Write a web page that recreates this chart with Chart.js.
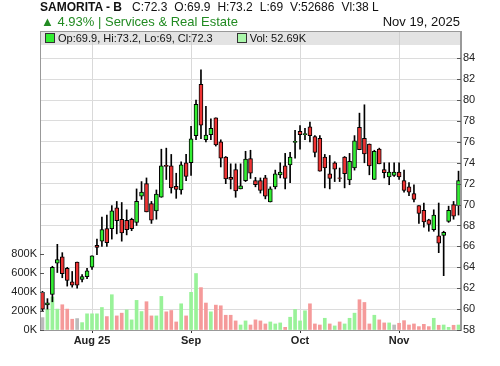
<!DOCTYPE html>
<html lang="en">
<head>
<meta charset="UTF-8">
<title>SAMORITA - B</title>
<script src="https://cdn.jsdelivr.net/npm/chart.js"></script>
<style>
    body { margin: 0; background: #fff; font-family: "Liberation Sans", Arial, sans-serif; }
    #wrap { position: relative; width: 500px; height: 366px; overflow: hidden; }
    canvas { position: absolute; left: 0; top: 0; }
    .line1 { position: absolute; left: 40px; top: 0; font-size: 12px; color: #111; white-space: nowrap; }
    .line1 span { margin-left: 7px; }
    .line1 span.first { margin-left: 10px; }
    .line2 { position: absolute; left: 41px; top: 14px; font-size: 13px; color: #228b22; white-space: nowrap; }
    .date { position: absolute; right: 40px; top: 14px; font-size: 13px; color: #111; white-space: nowrap; }
    .legend { position: absolute; left: 45px; top: 32px; font-size: 11px; color: #111; white-space: nowrap; }
    .sw { display: inline-block; width: 8px; height: 8px; border: 1px solid #333; vertical-align: -1px; margin-right: 3px; }
</style>
</head>
<body>
<div id="wrap">
    <canvas id="chart" width="500" height="366"></canvas>
    <div class="line1"><b>SAMORITA - B</b><span class="first" id="hc"></span><span id="ho"></span><span id="hh"></span><span id="hl"></span><span id="hv"></span><span>Vl:38 L</span></div>
    <div class="line2">▲ <span id="pct"></span> | Services &amp; Real Estate</div>
    <div class="date">Nov 19, 2025</div>
    <div class="legend"><span class="sw" style="background:#33ee33"></span><span id="ohlc"></span><span class="sw" style="background:#aaf7aa; margin-left:24px"></span><span id="vol"></span></div>
</div>

<script>
    // trading days per month
    const julDays = [20, 21, 22, 23, 24, 27, 28, 29, 30, 31];
    const augDays = [3, 4, 6, 7, 10, 11, 12, 13, 14, 17, 18, 19, 20, 21, 24, 25, 26, 27, 28, 31];
    const sepDays = [1, 2, 3, 4, 7, 8, 9, 10, 11, 14, 15, 16, 17, 18, 21, 22, 23, 24, 25, 28, 29, 30];
    const octDays = [5, 6, 7, 8, 9, 12, 13, 14, 15, 16, 19, 20, 21, 22, 23, 26, 27, 28, 29, 30];
    const novDays = [3, 4, 5, 6, 9, 10, 11, 12, 13, 16, 17, 18, 19];
    const monthNames = ['Jul', 'Aug', 'Sep', 'Oct', 'Nov'];
    const monthTickLabels = ['', 'Aug 25', 'Sep', 'Oct', 'Nov'];

    const opens = [
        61.6, 60.4, 61.4, 64.4, 65.0, 63.9, 62.6, 64.5, 62.85, 63.1,
        64.0, 66.1, 66.5, 67.7, 67.7, 69.7, 68.6, 68.5, 68.6, 68.3,
        70.8, 72.0, 70.1, 69.4, 70.7, 73.75, 73.7, 71.75, 71.4, 74.0,
        74.0, 76.6, 81.5, 76.2, 76.7, 78.3, 76.0, 74.55, 72.6, 73.35,
        71.5, 72.3, 74.4, 72.3, 72.3, 72.55, 70.25, 71.7, 72.85, 73.7,
        73.8, 75.95, 77.0, 76.7, 77.45, 76.5, 76.35, 74.55, 72.95, 74.0,
        72.55, 74.55, 72.35, 73.5, 77.4, 76.35, 75.8, 72.4, 75.3, 73.35,
        72.65, 72.8, 73.1, 72.3, 71.7, 71.05, 69.9, 69.45, 68.55, 67.6,
        67.0, 67.05, 68.4, 70.0, 69.9
    ];
    const highs = [
        61.7, 61.0, 64.1, 66.2, 65.4, 64.0, 63.6, 64.5, 63.3, 63.9,
        65.1, 66.7, 68.8, 69.0, 69.9, 70.3, 70.2, 69.5, 68.7, 71.5,
        72.2, 72.55, 70.3, 71.4, 75.3, 75.4, 74.8, 73.0, 74.1, 74.8,
        77.5, 80.0, 82.9, 79.4, 78.2, 78.3, 76.2, 74.6, 73.9, 73.9,
        73.9, 75.1, 75.2, 72.6, 72.55, 72.8, 71.7, 73.3, 74.0, 74.9,
        75.0, 77.1, 77.55, 77.3, 77.9, 76.6, 76.6, 74.8, 74.7, 74.1,
        73.5, 74.6, 74.9, 76.6, 78.75, 79.55, 75.8, 75.2, 75.4, 74.0,
        74.0, 74.0, 74.0, 73.3, 72.1, 71.9, 69.9, 70.15, 68.6, 69.5,
        70.15, 67.45, 69.85, 70.3, 73.2
    ];
    const lows = [
        59.8, 60.0, 60.7, 63.5, 63.0, 62.2, 62.1, 62.0, 62.6, 62.9,
        63.8, 65.2, 66.0, 66.0, 66.7, 67.2, 66.5, 67.1, 67.5, 68.0,
        70.5, 69.3, 68.2, 68.6, 70.7, 72.4, 71.1, 70.6, 71.0, 72.3,
        72.8, 76.2, 76.3, 76.0, 76.2, 75.6, 73.6, 72.0, 71.5, 70.7,
        71.5, 72.2, 72.5, 71.7, 71.1, 70.55, 70.25, 71.5, 72.55, 71.5,
        72.1, 74.45, 75.3, 76.2, 76.0, 74.55, 73.2, 71.6, 71.5, 72.2,
        72.2, 71.6, 71.9, 73.3, 75.25, 74.0, 72.85, 72.4, 73.9, 72.55,
        71.9, 72.7, 72.4, 71.2, 70.85, 70.25, 68.2, 67.85, 67.45, 67.45,
        65.4, 63.2, 68.3, 68.6, 69.0
    ];
    const closes = [
        60.0, 60.6, 64.0, 64.75, 63.4, 62.75, 62.3, 62.3, 63.1, 63.65,
        65.1, 65.9, 67.6, 66.35, 69.4, 68.45, 67.3, 67.6, 67.7, 70.3,
        71.2, 69.3, 68.5, 71.0, 73.7, 73.65, 71.6, 71.45, 73.8, 72.7,
        76.3, 79.6, 77.6, 76.65, 77.3, 75.7, 74.45, 72.45, 72.4, 71.3,
        71.8, 74.35, 73.0, 71.9, 71.35, 70.8, 71.5, 72.95, 73.1, 72.5,
        74.55, 76.05, 76.7, 76.8, 76.6, 75.0, 73.2, 73.5, 72.5, 73.4,
        72.5, 72.95, 74.15, 76.1, 75.25, 74.85, 73.7, 75.1, 73.9, 73.05,
        73.1, 73.1, 72.65, 71.35, 71.2, 70.5, 69.15, 68.35, 68.1, 69.0,
        66.3, 67.35, 69.45, 68.9, 72.3
    ];
    // volume in thousands
    const volumesK = [
        131, 221, 349, 221, 267, 221, 114, 121, 78, 171,
        171, 171, 238, 142, 373, 149, 178, 213, 107, 313,
        195, 299, 149, 149, 355, 192, 206, 85, 277, 149,
        398, 597, 448, 285, 192, 263, 256, 156, 156, 96,
        53, 96, 53, 107, 96, 64, 85, 64, 75, 28,
        135, 217, 96, 203, 277, 64, 53, 124, 64, 43,
        85, 64, 124, 178, 320, 291, 64, 156, 107, 75,
        75, 53, 71, 99, 53, 64, 36, 60, 36, 124,
        50, 53, 28, 50, 52.686
    ];
    const priceTicks = [58, 60, 62, 64, 66, 68, 70, 72, 74, 76, 78, 80, 82, 84];
    const volTicksK = [0, 200, 400, 600, 800];

    const monthDays = [julDays, augDays, sepDays, octDays, novDays];
    const labels = [];
    const monthOf = [];
    monthDays.forEach((days, m) => days.forEach(d => { labels.push(monthNames[m] + ' ' + d); monthOf.push(m); }));
    const isMonthStart = i => i > 0 && monthOf[i] !== monthOf[i - 1];

    const last = closes.length - 1;
    document.getElementById('hc').textContent = 'C:' + closes[last];
    document.getElementById('ho').textContent = 'O:' + opens[last];
    document.getElementById('hh').textContent = 'H:' + highs[last];
    document.getElementById('hl').textContent = 'L:' + lows[last];
    document.getElementById('hv').textContent = 'V:' + Math.round(volumesK[last] * 1000);
    document.getElementById('pct').textContent = ((closes[last] - closes[last - 1]) / closes[last - 1] * 100).toFixed(2) + '%';
    document.getElementById('ohlc').textContent = 'Op:' + opens[last] + ', Hi:' + highs[last] + ', Lo:' + lows[last] + ', Cl:' + closes[last];
    document.getElementById('vol').textContent = 'Vol: ' + volumesK[last].toFixed(2) + 'K';

    const bodyColors = opens.map((o, i) => closes[i] >= o ? '#33ee33' : '#ee3333');
    const volColors = closes.map((c, i) => {
        if (i === 0 || c === closes[i - 1]) return '#bbbbbb';
        return c > closes[i - 1] ? '#99f299' : '#f59a9a';
    });

    const framePlugin = {
        id: 'frame',
        beforeDatasetsDraw(chart) {
            const { ctx, chartArea: a } = chart;
            ctx.save();
            ctx.fillStyle = 'rgba(200,200,200,0.5)';
            ctx.fillRect(a.left, a.top, a.right - a.left, 14);
            ctx.restore();
        },
        afterDatasetsDraw(chart) {
            const { ctx, chartArea: a, scales } = chart;
            ctx.save();
            ctx.strokeStyle = '#999';
            ctx.lineWidth = 1;
            ctx.strokeRect(a.left + 0.5, a.top + 0.5, a.right - a.left - 1, a.bottom - a.top);
            ctx.strokeStyle = '#555';
            ctx.beginPath();
            scales.y.ticks.forEach(t => {
                const y = Math.round(scales.y.getPixelForValue(t.value)) + 0.5;
                ctx.moveTo(a.right - 4, y);
                ctx.lineTo(a.right, y);
            });
            scales.y1.ticks.forEach(t => {
                const y = Math.round(scales.y1.getPixelForValue(t.value)) + 0.5;
                ctx.moveTo(a.left, y);
                ctx.lineTo(a.left + 4, y);
            });
            ctx.stroke();
            ctx.restore();
        }
    };

    Chart.defaults.font.family = '"Liberation Sans", Arial, sans-serif';
    Chart.defaults.font.size = 11;
    Chart.defaults.color = '#222';

    new Chart(document.getElementById('chart').getContext('2d'), {
        type: 'bar',
        data: {
            labels: labels,
            datasets: [
                {
                    label: 'Body',
                    data: opens.map((o, i) => [o, closes[i]]),
                    backgroundColor: bodyColors,
                    borderColor: '#000',
                    borderWidth: 1,
                    borderSkipped: false,
                    barThickness: 4,
                    grouped: false,
                    order: 0,
                    yAxisID: 'y'
                },
                {
                    label: 'Wick',
                    data: lows.map((l, i) => [l, highs[i]]),
                    backgroundColor: '#000',
                    barThickness: 1,
                    grouped: false,
                    order: 1,
                    yAxisID: 'y'
                },
                {
                    label: 'Vol',
                    data: volumesK.map(v => v * 1000),
                    backgroundColor: volColors,
                    barThickness: 3,
                    grouped: false,
                    order: 2,
                    yAxisID: 'y1'
                }
            ]
        },
        options: {
            responsive: false,
            animation: false,
            devicePixelRatio: 1,
            layout: { padding: { top: 31, left: 0, right: 0, bottom: 0 } },
            plugins: { legend: { display: false }, tooltip: { enabled: false } },
            scales: {
                x: {
                    offset: true,
                    grid: {
                        offset: false,
                        color: c => isMonthStart(c.index) ? '#d9d9d9' : 'rgba(0,0,0,0)',
                        tickColor: c => isMonthStart(c.index) ? '#333' : 'rgba(0,0,0,0)',
                        tickLength: 3
                    },
                    border: { color: '#999' },
                    ticks: {
                        autoSkip: false,
                        maxRotation: 0,
                        padding: 1,
                        font: { weight: 'bold', size: 11 },
                        callback: (v, i) => isMonthStart(i) ? monthTickLabels[monthOf[i]] : ''
                    },
                    afterFit: s => { s.height = 36; }
                },
                y: {
                    position: 'right',
                    min: 58,
                    max: 86.61,
                    grid: { color: '#dcdcdc', drawTicks: false },
                    border: { color: '#999' },
                    ticks: { padding: 2 },
                    afterBuildTicks: s => { s.ticks = priceTicks.map(v => ({ value: v })); },
                    afterFit: s => { s.width = 39; }
                },
                y1: {
                    position: 'left',
                    min: 0,
                    max: 3160000,
                    grid: { drawOnChartArea: false, drawTicks: false },
                    border: { color: '#999' },
                    ticks: { padding: 3, callback: v => (v / 1000) + 'K' },
                    afterBuildTicks: s => { s.ticks = volTicksK.map(v => ({ value: v * 1000 })); },
                    afterFit: s => { s.width = 40; }
                }
            }
        },
        plugins: [framePlugin]
    });
</script>
</body>
</html>
